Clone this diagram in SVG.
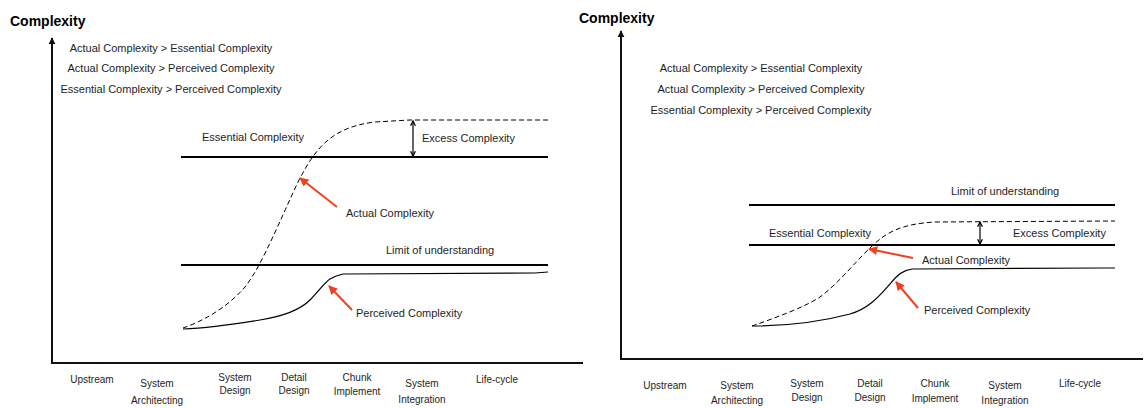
<svg xmlns="http://www.w3.org/2000/svg" width="1146" height="408" viewBox="0 0 1146 408">
  <style>
    text { font-family: "Liberation Sans", Arial, sans-serif; fill: #1e1e1e; }
    .title { font-size: 14px; font-weight: bold; fill: #000; }
    .lbl { font-size: 11px; }
    .rel { font-size: 11px; text-anchor: middle; }
    .tick { font-size: 10px; text-anchor: middle; }
    .axis { stroke: #111; stroke-width: 2; fill: none; }
    .level { stroke: #000; stroke-width: 2; fill: none; }
    .actual { stroke: #000; stroke-width: 1; fill: none; stroke-dasharray: 5 3; }
    .perceived { stroke: #000; stroke-width: 1.2; fill: none; }
    .pointer { stroke: #f0401e; stroke-width: 2; fill: none; }
    .gap { stroke: #000; stroke-width: 1.2; fill: none; }
  </style>
  <defs>
    <marker id="axisHead" viewBox="0 0 10 10" refX="9" refY="5" markerWidth="7" markerHeight="9" markerUnits="userSpaceOnUse" orient="auto">
      <path d="M0,0 L10,5 L0,10 Z" fill="#111"/>
    </marker>
    <marker id="redHead" viewBox="0 0 10 10" refX="9" refY="5" markerWidth="10" markerHeight="9" markerUnits="userSpaceOnUse" orient="auto">
      <path d="M0,0 L10,5 L0,10 Z" fill="#f0401e"/>
    </marker>
    <marker id="gapHead" viewBox="0 0 10 10" refX="9" refY="5" markerWidth="6" markerHeight="8" markerUnits="userSpaceOnUse" orient="auto">
      <path d="M1,1 L9,5 L1,9" fill="none" stroke="#000" stroke-width="2"/>
    </marker>
  </defs>

  <!-- ===== Left chart ===== -->
  <g id="left-axes">
    <path class="axis" d="M52,363 L52,38" marker-end="url(#axisHead)"/>
    <path class="axis" d="M51,363 L583,363"/>
    <text class="title" x="10" y="26">Complexity</text>
  </g>
  <g id="left-relations">
    <text class="rel" x="171" y="52">Actual Complexity &gt; Essential Complexity</text>
    <text class="rel" x="171" y="72">Actual Complexity &gt; Perceived Complexity</text>
    <text class="rel" x="171" y="93">Essential Complexity &gt; Perceived Complexity</text>
  </g>
  <g id="left-essential">
    <line class="level" x1="181" y1="157" x2="548" y2="157"/>
    <text class="lbl" x="202" y="141">Essential Complexity</text>
  </g>
  <g id="left-limit">
    <line class="level" x1="181" y1="265" x2="548" y2="265"/>
    <text class="lbl" x="386" y="254">Limit of understanding</text>
  </g>
  <g id="left-actual">
    <path class="actual" d="M183,328 C200,322 225,310 245,287 C262,266 282,215 300,178 C316,148 332,127 375,122 L410,120 L548,120"/>
    <text class="lbl" x="346" y="217">Actual Complexity</text>
  </g>
  <g id="left-perceived">
    <path class="perceived" d="M183,329 C210,328 230,325 260,320 C285,316 300,310 310,300 C318,292 325,282 330,279 C335,276 338,275 343,274 L535,273 L548,272"/>
    <text class="lbl" x="356" y="317">Perceived Complexity</text>
  </g>
  <g id="left-excess">
    <text class="lbl" x="422" y="142">Excess Complexity</text>
  </g>
  <g id="left-phases">
    <text class="tick" x="92" y="383">Upstream</text>
    <text class="tick" x="157" y="387">System</text>
    <text class="tick" x="157" y="404">Architecting</text>
    <text class="tick" x="235" y="381">System</text>
    <text class="tick" x="235" y="394">Design</text>
    <text class="tick" x="294" y="381">Detail</text>
    <text class="tick" x="294" y="394">Design</text>
    <text class="tick" x="357" y="381">Chunk</text>
    <text class="tick" x="357" y="395">Implement</text>
    <text class="tick" x="422" y="387">System</text>
    <text class="tick" x="422" y="403">Integration</text>
    <text class="tick" x="497" y="383">Life-cycle</text>
  </g>

  <!-- ===== Right chart ===== -->
  <g id="right-axes">
    <path class="axis" d="M621,359 L621,31" marker-end="url(#axisHead)"/>
    <path class="axis" d="M620,359 L1143,359"/>
    <text class="title" x="579" y="23">Complexity</text>
  </g>
  <g id="right-relations">
    <text class="rel" x="761" y="72">Actual Complexity &gt; Essential Complexity</text>
    <text class="rel" x="761" y="93">Actual Complexity &gt; Perceived Complexity</text>
    <text class="rel" x="761" y="114">Essential Complexity &gt; Perceived Complexity</text>
  </g>
  <g id="right-limit">
    <line class="level" x1="749" y1="205" x2="1115" y2="205"/>
    <text class="lbl" x="951" y="195">Limit of understanding</text>
  </g>
  <g id="right-essential">
    <line class="level" x1="749" y1="245" x2="1115" y2="245"/>
    <text class="lbl" x="769" y="237">Essential Complexity</text>
  </g>
  <g id="right-actual">
    <path class="actual" d="M752,326 C775,318 805,307 820,297 C840,282 855,262 870,248 C885,233 900,224 935,222 L1115,221"/>
    <text class="lbl" x="922" y="264">Actual Complexity</text>
  </g>
  <g id="right-perceived">
    <path class="perceived" d="M752,326 C785,326 820,322 850,314 C870,308 880,295 890,284 C897,275 903,270 912,269 L1105,268 L1115,268"/>
    <text class="lbl" x="924" y="314">Perceived Complexity</text>
  </g>
  <g id="right-excess">
    <text class="lbl" x="1013" y="237">Excess Complexity</text>
  </g>
  <g id="right-phases">
    <text class="tick" x="665" y="389">Upstream</text>
    <text class="tick" x="737" y="389">System</text>
    <text class="tick" x="737" y="404">Architecting</text>
    <text class="tick" x="807" y="387">System</text>
    <text class="tick" x="807" y="401">Design</text>
    <text class="tick" x="870" y="387">Detail</text>
    <text class="tick" x="870" y="401">Design</text>
    <text class="tick" x="935" y="387">Chunk</text>
    <text class="tick" x="935" y="402">Implement</text>
    <text class="tick" x="1005" y="389">System</text>
    <text class="tick" x="1005" y="404">Integration</text>
    <text class="tick" x="1080" y="387">Life-cycle</text>
  </g>

  <!-- ===== Pointers and gap arrows ===== -->
  <g id="connectors">
    <line class="gap" x1="413" y1="138" x2="413" y2="121" marker-end="url(#gapHead)"/>
    <line class="gap" x1="413" y1="138" x2="413" y2="156" marker-end="url(#gapHead)"/>
    <line class="pointer" x1="337" y1="207" x2="300" y2="178" marker-end="url(#redHead)"/>
    <line class="pointer" x1="352" y1="310" x2="329" y2="286" marker-end="url(#redHead)"/>

    <line class="gap" x1="980" y1="233" x2="980" y2="222" marker-end="url(#gapHead)"/>
    <line class="gap" x1="980" y1="233" x2="980" y2="244" marker-end="url(#gapHead)"/>
    <line class="pointer" x1="913" y1="258" x2="869" y2="249" marker-end="url(#redHead)"/>
    <line class="pointer" x1="918" y1="308" x2="896" y2="282" marker-end="url(#redHead)"/>
  </g>
</svg>
